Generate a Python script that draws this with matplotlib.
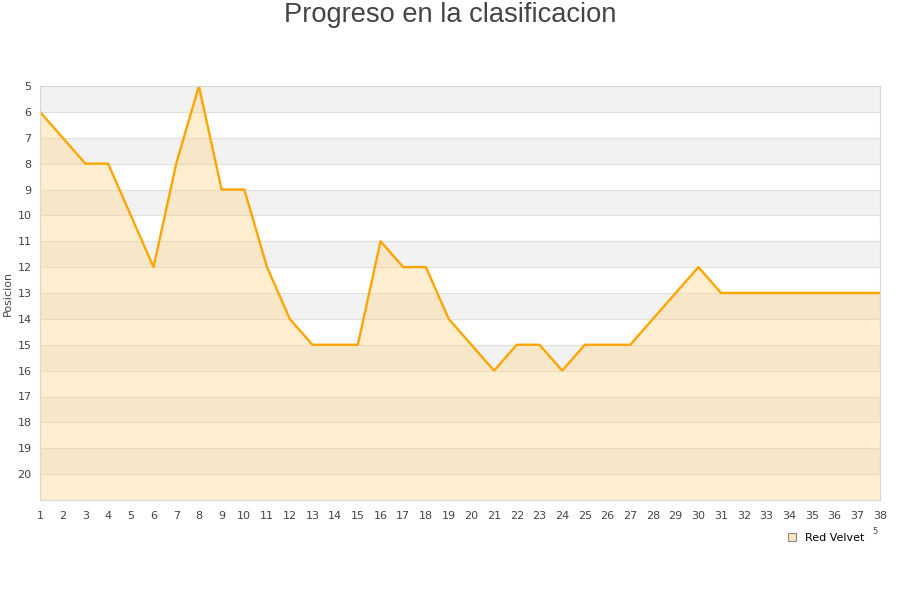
import matplotlib
matplotlib.use('agg')
import matplotlib.pyplot as plt
from matplotlib.patches import Patch

# data
jornadas = list(range(1, 39))
posicion = [6, 7, 8, 8, 10, 12, 8, 5, 9, 9,
            12, 14, 15, 15, 15, 11, 12, 12, 14, 15,
            16, 15, 15, 16, 15, 15, 15, 14, 13, 12,
            13, 13, 13, 13, 13, 13, 13, 13]
equipo = "Red Velvet"
titulo = "Progreso en la clasificacion"

fig = plt.figure(figsize=(9, 6), dpi=100)
ax = fig.add_axes([40 / 900, 100 / 600, 840 / 900, 414 / 600])

ax.set_xlim(1, 38)
ax.set_ylim(21, 5)

# alternating background bands
for y0 in range(5, 21, 2):
    ax.axhspan(y0, y0 + 1, color='#f2f2f2', zorder=0, lw=0)
for y in range(5, 22):
    ax.axhline(y, color='#e0e0e0', lw=0.8, zorder=0.5)

ax.fill_between(jornadas, posicion, 21, color='#ffd68a', alpha=0.4, lw=0, zorder=1)
ax.plot(jornadas, posicion, color='#ffa500', lw=1.7, zorder=2)

ax.set_yticks(range(5, 21))
ax.set_xticks(jornadas)
ax.tick_params(length=0, labelsize=8, colors='#444444', pad=6)
ax.tick_params(axis='x', pad=8)
for s in ax.spines.values():
    s.set_color('#d8d8d8')

ax.set_ylabel('Posicion', fontsize=8, color='#444444', labelpad=2)
ax.yaxis.set_label_coords(-0.032, 0.5)

fig.text(0.5, 1 - 15 / 600, titulo, ha='center', va='center', fontsize=19.6,
         color='#444444', family='Liberation Sans')
fig.text(875 / 900, 1 - 532 / 600, '5', ha='center', va='center', fontsize=6, color='#444444')

handle = Patch(facecolor='#fde7c0', edgecolor='#888888', lw=0.8)
fig.legend([handle], [equipo], loc='center', bbox_to_anchor=(826 / 900, 1 - 538 / 600),
           frameon=False, fontsize=8, handlelength=0.7, handleheight=0.7, handletextpad=0.8)

plt.savefig('out.png')
plt.close(fig)
